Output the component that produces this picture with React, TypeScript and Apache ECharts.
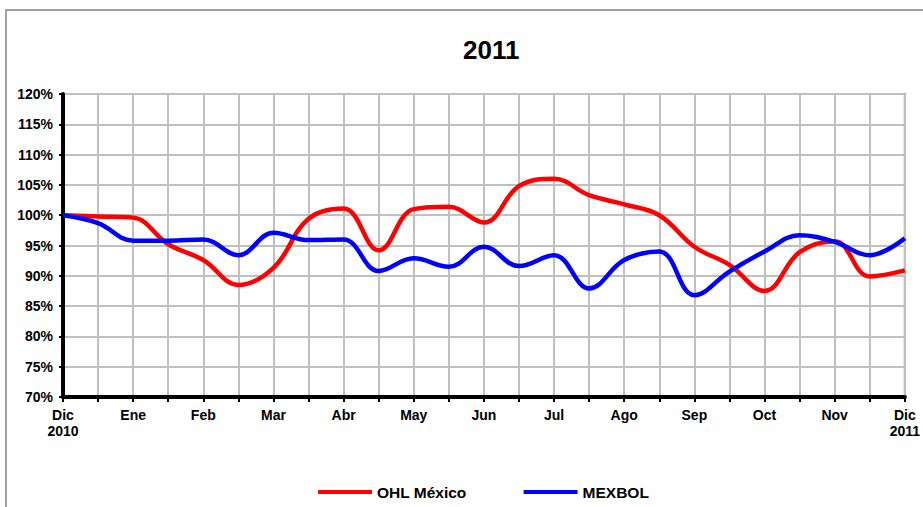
import React, { useEffect, useRef } from "react";
import * as echarts from "echarts";

const monthLabels = ["Dic\n2010", "Ene", "Feb", "Mar", "Abr", "May", "Jun", "Jul", "Ago", "Sep", "Oct", "Nov", "Dic\n2011"];
// half-month steps: 25 points
const categories = Array.from({ length: 25 }, (_, i) => `p${i}`);

const ohlMexico = [100, 99.8, 99.6, 95.2, 92.6, 88.5, 91.3, 99.4, 101.1, 94.2, 101.0, 101.4, 98.8, 104.8, 106.0, 103.3, 101.8, 100.0, 94.8, 91.8, 87.5, 93.9, 95.7, 89.9, 90.9];
const mexbol = [100, 98.7, 95.8, 95.8, 96.0, 93.4, 97.1, 95.9, 96.0, 90.8, 92.9, 91.5, 94.8, 91.6, 93.4, 87.9, 92.6, 94.0, 86.8, 90.7, 94.0, 96.7, 95.6, 93.4, 96.2];

const FONT = "'Liberation Sans', Arial, sans-serif";

export default function App() {
  const ref = useRef<HTMLDivElement>(null);
  useEffect(() => {
    if (!ref.current) return;
    const chart = echarts.init(ref.current, undefined, { renderer: "svg" });
    chart.setOption({
      animation: false,
      backgroundColor: "#ffffff",
      title: {
        text: "2011",
        left: 458,
        top: 32,
        textStyle: { fontFamily: FONT, fontSize: 26, fontWeight: "bold", color: "#000" },
      },
      graphic: [
        {
          type: "rect",
          z: -10,
          silent: true,
          shape: { x: 6, y: 10, width: 1000, height: 600 },
          style: { fill: "none", stroke: "#a0a0a0", lineWidth: 2 },
        },
      ],
      legend: {
        top: 479,
        left: 313,
        icon: "rect",
        itemWidth: 54,
        itemHeight: 4,
        itemGap: 57,
        textStyle: { fontFamily: FONT, fontSize: 15.5, fontWeight: "bold", color: "#000", padding: [0, 0, 0, 0] },
        data: ["OHL México", "MEXBOL"],
      },
      grid: {
        left: 63,
        right: 18,
        top: 94,
        bottom: 110,
        show: true,
        borderColor: "#808080",
        borderWidth: 2,
        containLabel: false,
      },
      xAxis: {
        type: "category",
        boundaryGap: false,
        data: categories,
        axisLine: { show: true, lineStyle: { color: "#000", width: 4 } },
        axisTick: { show: true, interval: 0, length: 5, lineStyle: { color: "#000", width: 2 } },
        splitLine: { show: true, interval: 0, lineStyle: { color: "#c0c0c0", width: 2 } },
        axisLabel: {
          interval: 0,
          margin: 10,
          fontFamily: FONT,
          fontSize: 14,
          fontWeight: "bold",
          color: "#000",
          lineHeight: 16,
          formatter: (_v: string, idx: number) => (idx % 2 === 0 ? monthLabels[idx / 2] : ""),
        },
      },
      yAxis: {
        type: "value",
        min: 70,
        max: 120,
        interval: 5,
        axisLine: { show: true, lineStyle: { color: "#000", width: 4 } },
        axisTick: { show: true, length: 4, lineStyle: { color: "#000", width: 2 } },
        splitLine: { show: true, lineStyle: { color: "#c0c0c0", width: 2 } },
        axisLabel: {
          margin: 10,
          fontFamily: FONT,
          fontSize: 14,
          fontWeight: "bold",
          color: "#000",
          formatter: "{value}%",
        },
      },
      series: [
        {
          name: "OHL México",
          type: "line",
          data: ohlMexico,
          smooth: 0.4,
          symbol: "none",
          color: "#ff0000",
          lineStyle: { color: "#ff0000", width: 4.5 },
          z: 3,
        },
        {
          name: "MEXBOL",
          type: "line",
          data: mexbol,
          smooth: 0.4,
          symbol: "none",
          color: "#0000ff",
          lineStyle: { color: "#0000ff", width: 4.5 },
          z: 4,
        },
      ],
    });
    return () => chart.dispose();
  }, []);
  return (
    <div
      ref={ref}
      style={{ position: "fixed", left: 0, top: 0, width: 923, height: 507 }}
    />
  );
}
